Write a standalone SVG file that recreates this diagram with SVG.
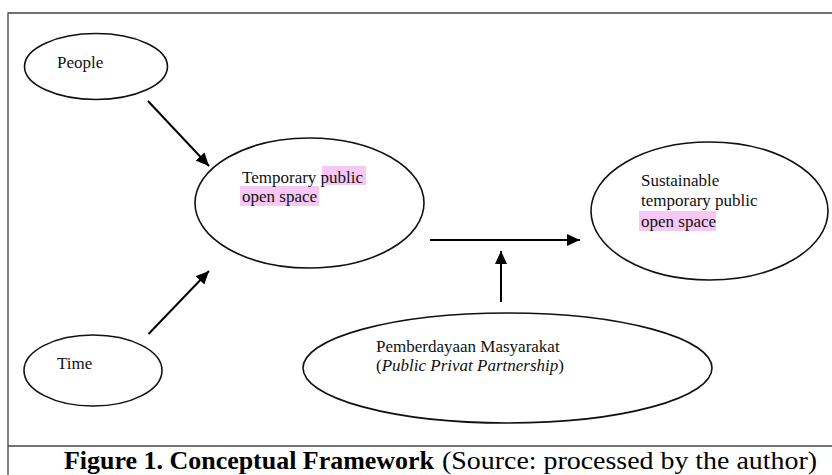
<svg xmlns="http://www.w3.org/2000/svg" width="832" height="475" viewBox="0 0 832 475">
<defs>
<marker id="arr" markerUnits="userSpaceOnUse" markerWidth="14" markerHeight="12" refX="13" refY="6" orient="auto">
<path d="M0,0 L13,6 L0,12 z" fill="#000"/>
</marker>
<style>
.node{fill:#fff;stroke:#111;stroke-width:1.6}
.t{font-family:"Liberation Serif","Times New Roman",serif;font-size:17px;fill:#111}
.hl{fill:#f7c8f4}
.edge{stroke:#000;stroke-width:2;fill:none;marker-end:url(#arr)}
.frame{stroke:#444;stroke-width:1.3;fill:none}
</style>
</defs>
<rect width="832" height="475" fill="#fff"/>
<path class="frame" d="M840,13 H8 V480"/>
<line class="frame" x1="8" y1="446" x2="840" y2="446"/>

<g id="people">
<ellipse class="node" cx="96" cy="66.5" rx="71.5" ry="33"/>
<text class="t" x="57" y="68">People</text>
</g>

<g id="temporary">
<ellipse class="node" cx="309.5" cy="203" rx="114.5" ry="65"/>
<rect class="hl" x="322" y="166" width="44" height="19"/>
<rect class="hl" x="240" y="186" width="79" height="20"/>
<text class="t" x="242" y="183">Temporary public</text>
<text class="t" x="242" y="202">open space</text>
</g>

<g id="sustainable">
<ellipse class="node" cx="709.5" cy="211" rx="118.5" ry="69"/>
<rect class="hl" x="639" y="211" width="77" height="20"/>
<text class="t" x="641" y="186">Sustainable</text>
<text class="t" x="641" y="206">temporary public</text>
<text class="t" x="641" y="227">open space</text>
</g>

<g id="time">
<ellipse class="node" cx="93" cy="370.5" rx="69" ry="35.5"/>
<text class="t" x="57" y="369">Time</text>
</g>

<g id="pemberdayaan">
<ellipse class="node" cx="507.5" cy="368" rx="204.5" ry="55"/>
<text class="t" x="376" y="352">Pemberdayaan Masyarakat</text>
<text class="t" x="376" y="371">(<tspan font-style="italic">Public Privat Partnership</tspan>)</text>
</g>

<g id="connectors">
<line class="edge" x1="148" y1="101" x2="209" y2="166"/>
<line class="edge" x1="148.5" y1="334" x2="209" y2="271"/>
<line class="edge" x1="430" y1="240" x2="580" y2="240"/>
<line class="edge" x1="501" y1="302" x2="501" y2="251"/>
</g>

<text x="64" y="469" font-family="'Liberation Serif','Times New Roman',serif" font-size="25" fill="#000"><tspan font-weight="bold" textLength="370" lengthAdjust="spacingAndGlyphs">Figure 1. Conceptual Framework</tspan><tspan x="442" textLength="375" lengthAdjust="spacingAndGlyphs">(Source: processed by the author)</tspan></text>
</svg>
